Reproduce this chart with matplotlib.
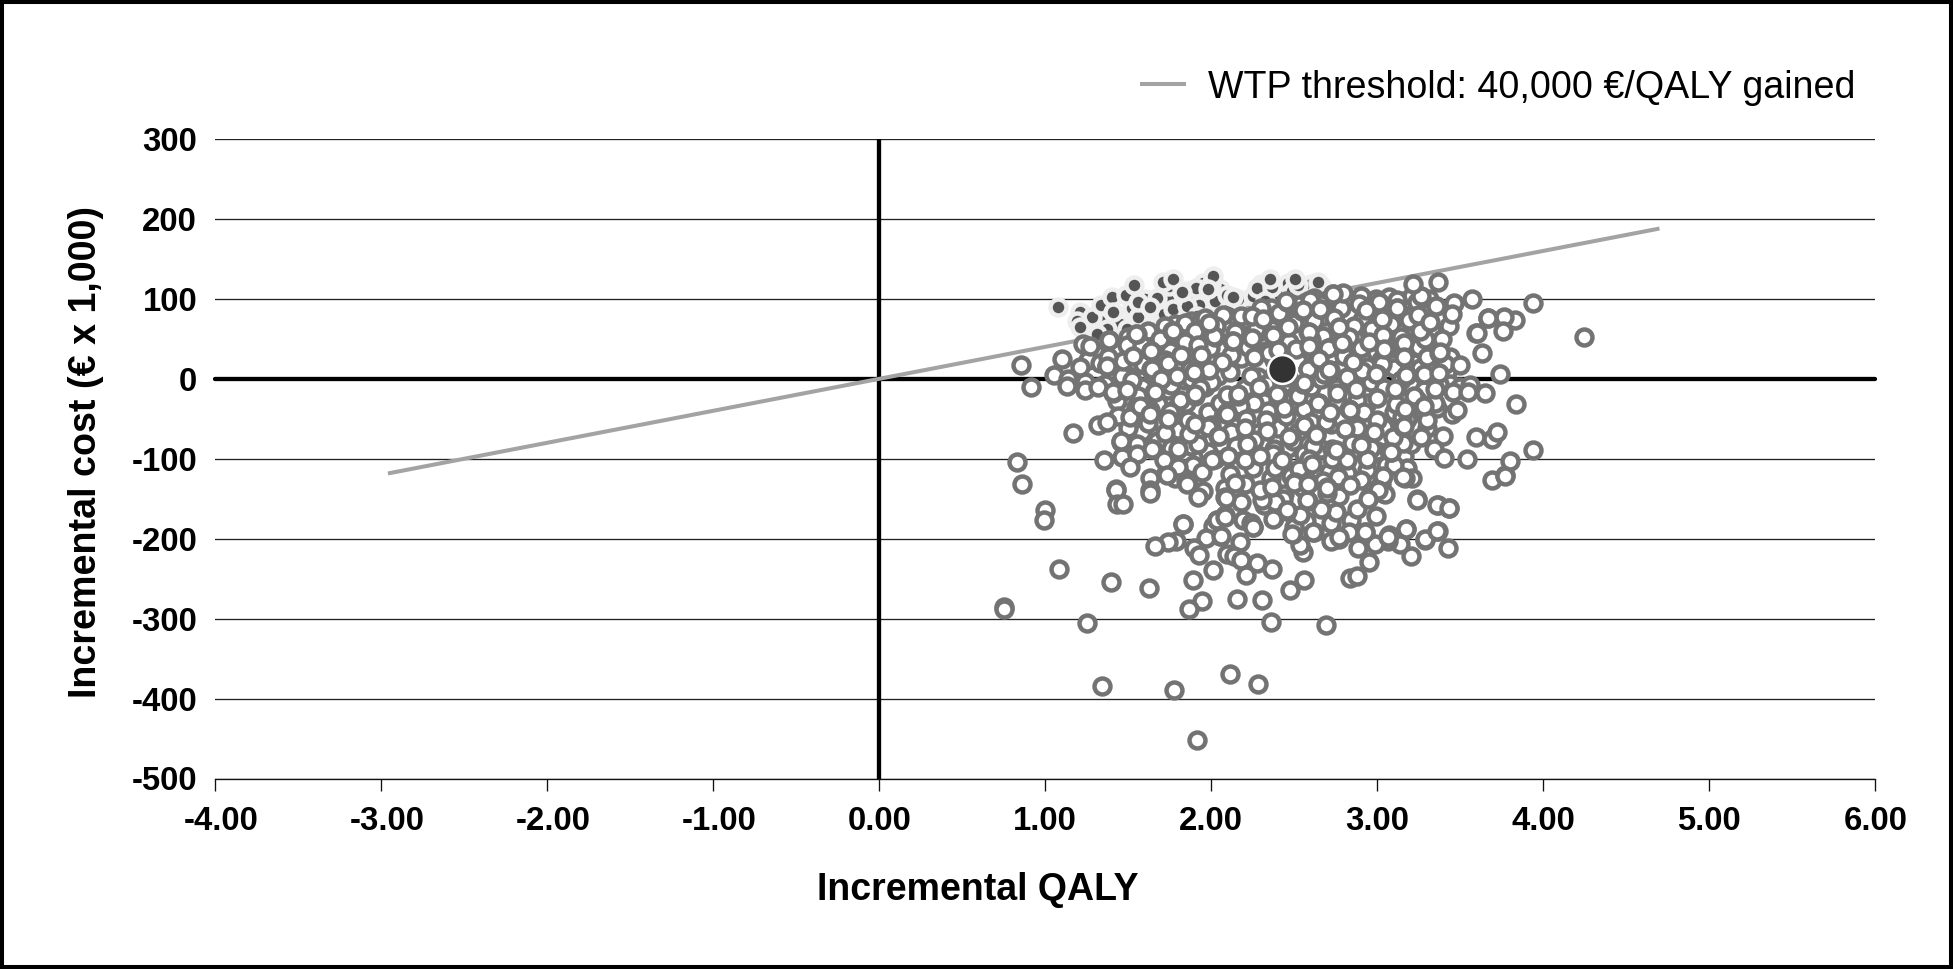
import matplotlib
matplotlib.use("Agg")
import matplotlib.pyplot as plt
from matplotlib.patches import Rectangle
from matplotlib.transforms import ScaledTranslation

plt.rcParams['font.family'] = ['Liberation Sans', 'DejaVu Sans']

W, H = 1953, 969

x_ticks = [-4, -3, -2, -1, 0, 1, 2, 3, 4, 5, 6]
y_ticks = [-500, -400, -300, -200, -100, 0, 100, 200, 300]
x_tick_labels = ['-4.00', '-3.00', '-2.00', '-1.00', '0.00', '1.00', '2.00', '3.00', '4.00', '5.00', '6.00']
y_tick_labels = ['-500', '-400', '-300', '-200', '-100', '0', '100', '200', '300']

threshold_qaly = [-2.96, 4.70]
threshold_cost = [-118.4, 188]

mean_qaly = [2.424]
mean_cost = [12.5]

above_qaly = [1.25, 1.33, 1.45, 1.52, 1.60, 1.65, 1.70, 1.80, 1.85, 1.74, 1.88, 1.96, 2.05, 2.10, 2.16, 2.25, 2.30,
              2.40, 2.46, 2.55, 2.60, 2.66, 1.52, 1.60, 1.95, 2.00,
              1.078, 1.209, 1.279, 1.335, 1.400, 1.406, 1.486, 1.536, 1.556, 1.560, 1.675, 1.717, 1.747, 1.771,
              1.908, 1.926, 2.012, 2.022, 2.092, 2.277, 2.368, 2.484, 2.520, 2.645, 1.370, 1.490, 1.309, 1.189,
              1.851, 1.912, 2.323, 1.631, 1.711, 1.771, 2.354, 2.504, 2.645, 1.821, 1.982, 2.133, 1.209]
above_cost = [66, 72, 68, 88, 84, 92, 74, 100, 110, 100, 98, 104, 112, 92, 100, 104, 118,
              106, 120, 112, 118, 116, 108, 100, 120, 118,
              89.6, 83.3, 77.1, 92.5, 102.1, 83.3, 105, 117.5, 77.9, 95.8, 101.2, 81.2, 115.8, 87.5,
              113.7, 92.9, 129.1, 97.9, 105.4, 113.3, 114.6, 110.4, 117.5, 110.4, 62.5, 62.5, 56.2, 72.9,
              91.6, 79.2, 97.9, 89.6, 120.8, 125, 125, 125, 120.8, 108.3, 112.5, 102, 64.6]

# rings partly hidden under the visible ones
hidden_qaly = [2.36, 2.48, 2.57, 2.62, 2.69, 2.77, 2.84, 2.90, 2.99, 3.07, 3.16, 3.21, 3.31,
               1.78, 1.88, 1.94, 2.05, 2.12, 2.19, 2.27, 2.34, 2.42, 2.52, 2.58, 2.68, 2.75, 2.83, 2.91, 3.00, 3.09, 3.20, 3.28, 3.37, 3.43,
               1.50, 1.62, 1.70, 1.82, 1.91, 2.00, 2.09, 2.17, 2.28, 2.36, 2.44, 2.52, 2.61, 2.67, 2.79, 2.88, 2.95, 3.06, 3.14, 3.24, 3.32,
               1.30, 1.42, 1.49, 1.58, 1.68, 1.75, 1.86, 1.97, 2.06, 2.15, 2.25, 2.33, 2.43, 2.50, 2.63, 2.72, 2.81, 2.90, 2.99, 3.08, 3.18, 3.25, 3.34, 3.44,
               1.26, 1.33, 1.44, 1.53, 1.60, 1.72, 1.80, 1.90, 2.00, 2.09, 2.18, 2.30, 2.38, 2.52, 2.60, 2.72, 2.78, 2.94, 3.02, 3.10, 3.22, 3.32, 3.42,
               1.24, 1.36, 1.46, 1.58, 1.74, 1.84, 1.96, 2.04, 2.20, 2.28, 2.35, 2.44, 2.60, 2.66, 2.76, 2.82, 2.96, 3.04, 3.20, 3.28, 3.44, 3.50,
               1.48, 1.56, 1.66, 1.78, 1.85, 1.98, 2.06, 2.15, 2.26, 2.36, 2.48, 2.56, 2.65, 2.76, 2.90, 2.94, 3.10, 3.24, 3.36,
               1.58, 1.68, 1.80, 1.92, 2.00, 2.12, 2.28, 2.40, 2.52, 2.60, 2.72, 2.88, 3.04, 3.18, 3.30,
               1.76, 1.88, 1.98, 2.24, 2.32, 2.46, 2.56, 2.66, 2.84, 3.00, 3.16,
               1.62, 1.72, 1.84, 1.96, 2.07, 2.18, 2.30, 2.41, 2.53, 2.66, 2.78, 2.89, 3.01, 3.12, 3.24,
               1.58, 1.69, 1.78, 1.90, 2.03, 2.14, 2.27, 2.37, 2.50, 2.62, 2.74, 2.86, 2.97, 3.08, 3.19, 3.33,
               1.47, 1.59, 1.74, 1.87, 1.99, 2.12, 2.22, 2.35, 2.47, 2.60, 2.70, 2.83, 2.95, 3.06, 3.16, 3.29, 3.41,
               1.52, 1.65, 1.76, 1.88, 2.00, 2.11, 2.24, 2.33, 2.46, 2.58, 2.68, 2.80, 2.91, 3.03, 3.14, 3.26, 3.37,
               1.43, 1.56, 1.68, 1.81, 1.93, 2.05, 2.17, 2.29, 2.40, 2.52, 2.64, 2.76, 2.88, 3.00, 3.11, 3.22, 3.35,
               1.50, 1.62, 1.75, 1.86, 1.98, 2.09, 2.21, 2.34, 2.45, 2.56, 2.69, 2.79, 2.92, 3.04, 3.15, 3.28,
               1.55, 1.67, 1.80, 1.92, 2.04, 2.15, 2.26, 2.38, 2.49, 2.61, 2.73, 2.85, 2.96, 3.07, 3.20,
               1.78, 1.89, 2.02, 2.13, 2.25, 2.36, 2.48, 2.59, 2.71, 2.82, 2.94, 3.05, 3.18,
               1.95, 2.08, 2.20, 2.31, 2.44, 2.55, 2.67, 2.77, 2.90, 3.02, 1.63, 1.73, 1.85, 2.97, 3.10,
               2.01, 2.19, 2.32, 2.43, 2.57, 2.72, 2.84, 2.99]
hidden_cost = [88, 94, 96, 101, 97, 102, 96, 104, 100, 102, 97, 103, 100,
               68, 72, 74, 70, 76, 73, 78, 70, 76, 78, 74, 78, 72, 80, 74, 82, 78, 72, 84, 76, 66,
               52, 56, 52, 58, 60, 57, 62, 55, 58, 62, 52, 56, 62, 54, 58, 54, 58, 62, 52, 48, 56,
               33, 38, 42, 35, 40, 35, 38, 36, 40, 36, 39, 35, 42, 30, 36, 40, 33, 38, 33, 38, 36, 40, 42, 27,
               24, 20, 15, 22, 17, 24, 14, 20, 24, 18, 26, 16, 24, 22, 16, 22, 14, 15, 24, 14, 20, 14, 8,
               -4, -6, 3, -10, -14, -2, -10, 4, -12, 2, -10, -6, -10, 0, -12, 2, -4, -12, -8, -14, -6, -10,
               -30, -42, -28, -38, -30, -42, -32, -40, -30, -42, -28, -38, -30, -28, -40, -30, -42, -26, -36,
               -66, -52, -64, -66, -58, -66, -68, -62, -66, -54, -56, -62, -58, -50, -62,
               -86, -84, -92, -92, -84, -86, -94, -88, -92, -90, -96,
               60, 66, 70, 76, 80, 78, 88, 82, 92, 94, 88, 93, 96, 99, 96,
               42, 50, 55, 60, 66, 58, 62, 55, 70, 72, 76, 66, 62, 68, 74, 60,
               22, 18, 20, 12, 38, 30, 40, 32, 46, 48, 38, 52, 46, 40, 45, 50, 18,
               -2, 6, -8, 0, -4, 8, 4, -6, 2, 12, 6, 28, 10, 18, -2, 14, -6,
               -28, -22, -32, -26, -12, -30, -34, -10, -28, -22, -30, -18, -26, -24, -32, -22, -30,
               -62, -55, -42, -52, -60, -44, -50, -40, -46, -58, -54, -50, -42, -60, -48, -44,
               -82, -78, -88, -82, -72, -84, -76, -88, -78, -84, -88, -80, -86, -90, -82,
               -124, -108, -100, -128, -112, -124, -122, -100, -116, -118, -114, -108, -112,
               -140, -136, -132, -140, -144, -136, -128, -146, -126, -132, -124, -118, -128, -140, -108,
               -184, -176, -158, -150, -178, -180, -176, -172]

ring_qaly = [0.854, 0.914, 1.052, 1.102, 1.139, 1.133, 1.209, 1.229, 1.269, 1.239, 1.315, 1.370, 1.384, 1.406, 1.376,
             1.526, 1.550, 1.635, 1.637, 1.695, 1.657, 1.546, 1.631, 1.480, 1.440, 1.510, 1.315, 1.370, 1.169,
             1.456, 1.460, 1.550, 1.356, 1.510, 0.831, 0.862, 1.426, 1.631, 1.647, 1.715, 1.797, 1.731, 1.858,
             1.946, 2.006, 2.113, 2.203, 2.103, 2.374, 2.384, 2.530, 2.584, 2.504, 2.604, 2.729, 2.815, 2.936,
             2.765, 3.036, 3.207, 3.167, 3.080, 3.157, 2.902, 2.976, 3.092, 3.157, 3.263, 3.398, 3.343, 3.404,
             3.538, 3.592, 3.689, 3.689, 3.297, 3.448, 3.478, 3.281, 3.167, 2.996, 2.831, 2.715, 2.872, 3.111,
             2.996, 3.181, 3.281, 3.374, 3.558, 3.649, 3.454, 3.498, 3.297, 3.374, 3.161, 2.856, 2.715, 2.651,
             2.584, 2.785, 2.771, 2.584, 2.464, 2.510, 2.400, 2.259, 2.243, 2.243, 2.313, 2.544, 2.655, 2.454,
             2.594, 2.731, 2.791, 2.930, 3.026, 3.117, 3.036, 3.257, 3.243, 3.263, 3.213, 3.364, 3.354, 3.464,
             3.568, 3.448, 3.665, 3.594, 3.629, 3.392, 3.317, 1.765, 1.986, 2.022, 2.127, 1.817, 1.936, 2.062,
             1.896, 1.986, 1.902, 2.092, 2.163, 2.092, 2.203, 2.327, 2.438, 2.400, 2.554, 2.470, 2.631, 2.048,
             1.866, 1.721, 1.741, 2.751,
             1.423, 1.432, 1.466, 1.628, 1.000, 0.995, 1.827, 1.917, 2.085, 2.178, 2.035, 2.085, 2.242, 2.252,
             2.051, 1.970, 1.790, 1.739, 1.658, 2.171, 1.894, 1.924, 2.097, 2.136, 2.178, 2.275, 2.367, 2.009,
             2.208, 1.889, 1.081, 1.397, 1.624, 1.942, 1.866, 2.155, 2.305, 2.473, 2.559, 2.836, 2.875, 2.951,
             3.206, 3.427, 3.136, 3.286, 3.367, 3.171, 3.062, 3.072, 2.986, 2.882, 2.924, 2.831, 2.771, 2.720,
             2.617, 2.552, 2.536, 2.494, 2.501, 2.536, 2.751, 2.658, 2.878, 2.455, 2.379, 2.381, 2.582, 2.305,
             2.697, 2.947, 3.032, 3.005, 3.240, 3.367, 3.430, 1.249, 2.358, 2.688, 0.751, 0.751, 1.339, 1.776,
             2.115, 2.282, 1.915, 1.855, 2.143, 2.293, 2.363, 2.697, 2.836, 2.501, 3.771,
             3.936, 4.245, 3.830, 3.766, 3.665, 3.755, 3.599, 3.739, 3.836, 3.549, 3.723, 3.800, 3.936, 3.770,
             3.241, 3.358, 3.432, 3.157,
             1.385, 1.546, 1.373, 1.634, 1.640, 1.405, 1.490, 1.694, 1.660, 1.771, 1.841, 1.921, 2.016, 1.988,
             2.128, 1.815, 1.935, 1.895, 1.791, 1.901, 2.162, 2.393, 2.450, 1.570,
             2.654, 2.735, 2.554, 2.590, 2.590, 2.785, 3.040, 3.353, 3.120, 3.377, 2.851, 2.711, 2.992, 2.558,
             3.106, 3.347, 3.171,
             1.456, 1.644, 1.630, 1.901, 2.086, 2.458, 2.373, 2.253, 2.036, 2.082, 1.831, 2.056, 2.092, 2.484,
             2.293, 2.423, 2.333, 2.213,
             2.630, 2.835, 3.160, 3.082, 2.805, 2.980, 3.046, 2.695, 3.006, 2.946, 2.578, 2.584, 2.614, 2.771,
             3.066, 3.287, 2.926, 3.173, 3.361]
ring_cost = [17.9, -10.4, 5, 25, 0, -8.4, 15.4, 43.7, 40.8, -14.6, -10.4, 16.6, 49.1, -18, 27,
             28.3, 56.2, 35.4, 12.5, 0, -16.7, -35.4, -38.8, -14.6, -45.9, -48, -58.4, -54, -68,
             -79.2, -98, -93.8, -102.1, -110.4, -104.2, -131.3, -137.5, -139.6, -87.5, -102, -110.4, -120.9, -130.4,
             -116.7, -102.1, -118.8, -102.1, -97.1, -93.8, -111.7, -112.5, -129.2, -129.2, -106.3, -100.9, -102.1, -100.9,
             -123, -122.1, -124.6, -123.8, -91.7, -80.4, -83.4, -66.7, -73, -60.4, -73, -71.7, -87.5, -98.8,
             -100.9, -73, -75, -127, -52.1, -44.6, -39.6, -33.4, -37.5, -51.3, -37.5, -40.9, -12.5, -12.5,
             5.4, 4.2, 5.4, 7, -7.5, -18, -16.7, 17.5, 27.9, 32, 27.9, 20.8, 11.2, 25,
             41.6, 44.6, 64.6, 58.3, 65.4, 37.5, 36.2, 27, 51.2, 79.2, 75, 85.4, 87.5, 96.6,
             98.7, 106.2, 107, 86.2, 75, 88.3, 55, 59.6, 80.4, 104.1, 118.7, 121.6, 91.6, 94.6,
             100, 81.2, 76.2, 57.5, 32.5, 50, 70.8, 60.4, 67.9, 52, 47.9, 29.2, 27.9, 20.8,
             8.3, 11.2, -20.9, -20, -20.9, -40.9, -61.3, -52.1, -36.7, -19.6, -6.3, -73, -69.6, -71.7,
             -68.8, -68, -50, -89.6,
             -139.2, -156.7, -156.7, -142.5, -164.2, -176.7, -182, -147.5, -147.5, -153.8, -176.7, -170.4, -180.8, -185,
             -196.7, -199.6, -202.9, -203.8, -208.8, -203.8, -212, -220.4, -219, -221.7, -226.7, -230, -238, -239.2,
             -245.4, -251.7, -238.3, -254.6, -261.3, -277.5, -288.3, -275.4, -276.7, -264.2, -251.7, -248.8, -246.7, -229.6,
             -221.7, -211.3, -206.7, -201.7, -190.4, -187.9, -202.9, -195.4, -206.7, -212, -191.3, -191.3, -200.4, -202.5,
             -191.3, -217, -208, -194.2, -185, -170.4, -167, -163, -163, -165, -174.6, -153.8, -152.5, -151.7,
             -135.8, -148.3, -142.5, -139, -150.8, -158, -161.3, -305, -303.8, -308.3, -285.8, -288.3, -384.2, -389.2,
             -369.6, -382, -451.7, -131.7, -130, -139, -135, -143, -133, -130, -120,
             94.6, 52, 73.7, 77.9, 76.2, 60.4, 57.5, 5.4, -32.1, -16.7, -66.7, -103.4, -89.6, -122.1,
             -151.3, -158.4, -161.3, -123,
             48.7, 56.2, 16.6, 34.6, 12.5, -16.7, -14.6, 0, -16.7, 60.4, 45.8, 42.9, 54.1, 69.6,
             47.9, 29.2, 29.2, 8.3, 2.9, -18.8, -18.8, -19.6, 97, -34.6,
             87.5, 106.2, 86.2, 58.3, 41.6, 44.6, 37.5, 91.6, 88.7, 33.3, 20.8, 11.2, 5.4, -5.4,
             -12.5, -12.5, 4.2,
             -78.4, -87.5, -43.8, -56.3, -148.8, -164.6, -175, -185.4, -177, -173, -182, -197, -43.8, -193.8,
             -96, -102, -65, -81,
             -70.9, -39.6, -59.6, -91.7, -63.4, -66.7, -143.8, -136.3, -139.6, -150, -152.1, -131.3, -191.7, -198,
             -198, -200, -191.7, -187.5, -190.4]

fig = plt.figure(figsize=(W / 100, H / 100), dpi=100, facecolor='white')
ax = fig.add_axes([215.3 / W, 1 - 778.5 / H, 1660 / W, 639.5 / H])
ax.set_xlim(-4, 6)
ax.set_ylim(-500, 300)
ax.set_facecolor('white')

for s in ['top', 'left', 'right']:
    ax.spines[s].set_visible(False)
ax.spines['bottom'].set_linewidth(0.95)
ax.spines['bottom'].set_color('#111111')

ax.set_xticks(x_ticks, x_tick_labels, fontsize=23.7, fontweight='bold')
ax.set_yticks(y_ticks, y_tick_labels, fontsize=23.7, fontweight='bold')
ax.tick_params(axis='x', length=8.6, width=0.95, pad=11, color='#111111')
ax.tick_params(axis='y', length=0, pad=13)
ax.yaxis.grid(True, color='#222222', linewidth=0.95, zorder=1)
ax.set_axisbelow(True)

# the minus sign of the negative labels hangs to the left of the centred digits
shift = ScaledTranslation(5.5 / 100, 0, fig.dpi_scale_trans)
for lab, val in zip(ax.get_xticklabels(), x_ticks):
    if val < 0:
        lab.set_transform(lab.get_transform() + shift)

ax.plot([-4, 6], [0, 0], color='black', lw=3.1, solid_capstyle='round', zorder=2, clip_on=False)
ax.plot([0, 0], [-500, 300], color='black', lw=3.1, solid_capstyle='butt', zorder=2, clip_on=False)

ax.plot(threshold_qaly, threshold_cost, color='#a3a3a3', lw=2.9, solid_capstyle='butt', zorder=3,
        label='WTP threshold: 40,000 €/QALY gained')

marker_area = 132
ax.scatter(above_qaly, above_cost, s=marker_area, facecolor='#555555', edgecolor='#eeeeee', linewidth=3.2,
           zorder=4, clip_on=False)
ax.scatter(hidden_qaly + ring_qaly, hidden_cost + ring_cost, s=marker_area, facecolor='white', edgecolor='#737373',
           linewidth=3.2, zorder=5, clip_on=False)
ax.scatter(mean_qaly, mean_cost, s=430, facecolor='#333333', edgecolor='white', linewidth=1.8, zorder=6,
           clip_on=False)

fig.text(977.5 / W, 1 - 900.5 / H, 'Incremental QALY', ha='center', va='baseline', fontsize=27, fontweight='bold')
fig.text(86 / W, 1 - 452 / H, 'Incremental cost (€ x 1,000)', ha='center', va='center', rotation=90,
         fontsize=27.1, fontweight='bold')

ax.legend(loc='center left', bbox_to_anchor=(1140 / W, 1 - 87.5 / H), bbox_transform=fig.transFigure,
          frameon=False, fontsize=27.1, handlelength=1.22, handletextpad=0.58, borderpad=0, borderaxespad=0)

fig.add_artist(Rectangle((0, 0), 1, 1, transform=fig.transFigure, facecolor='none', edgecolor='black',
                         linewidth=5.8, clip_on=True))

fig.savefig('out.png', dpi=100, facecolor='white')
